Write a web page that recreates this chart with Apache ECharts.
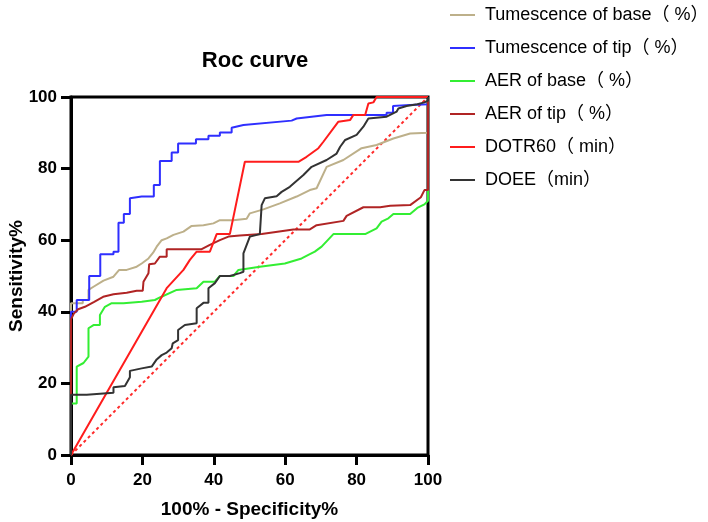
<!DOCTYPE html>
<html>
<head>
<meta charset="utf-8">
<style>
  html, body { margin: 0; padding: 0; background: #fff; }
  #chart { width: 708px; height: 522px; }
</style>
<script src="https://cdn.jsdelivr.net/npm/echarts@6/dist/echarts.min.js"></script>
</head>
<body>
<div id="chart"></div>
<script>
var names = ['Tumescence of base（ %）', 'Tumescence of tip（ %）', 'AER of base（ %）', 'AER of tip（ %）', 'DOTR60（ min）', 'DOEE（min）'];
var colors = ['#bdb08a', '#2f2fff', '#33ee33', '#b02424', '#ff1c1c', '#333333'];
var ticks = [0, 20, 40, 60, 80, 100];

var tumBase = [[0, 0], [0, 42.4], [3.3, 42.4], [3.3, 43.3], [4.9, 43.3], [4.9, 46.1], [6.3, 47], [9.1, 48.7], [11.9, 49.8], [13.5, 51.7], [15.6, 51.7], [18.4, 52.6], [19.8, 53.5], [21.7, 54.9], [23, 56.5], [24, 58.2], [25.4, 60], [26.8, 60.5], [28.7, 61.5], [31.5, 62.4], [33.8, 64], [37.1, 64.2], [39.9, 64.7], [41.7, 65.6], [45.5, 65.6], [49.2, 66], [50.1, 67.5], [53.9, 68.6], [58.5, 70.3], [63.2, 72.2], [66.9, 74], [68.8, 74.5], [71.6, 80.5], [76.3, 82.4], [81.4, 85.7], [85.6, 86.6], [90.3, 88.4], [95, 89.8], [100, 90], [100, 100]];
var tumTip = [[0, 0], [0, 40], [1.6, 40], [1.6, 43.3], [5.1, 43.3], [5.1, 50], [8.2, 50], [8.2, 56.1], [11.9, 56.1], [11.9, 56.8], [13.3, 56.8], [13.3, 64.9], [14.8, 64.9], [14.8, 67.3], [16.5, 67.3], [16.5, 71.7], [19.8, 72.2], [23.2, 72.2], [23.2, 75.4], [24.9, 75.4], [24.9, 82.1], [28.2, 82.1], [28.2, 84.5], [30, 84.5], [30, 87], [35, 87], [35, 88.2], [38.5, 88.2], [38.5, 89.2], [41.7, 89.2], [41.7, 90.1], [45, 90.1], [45, 91.4], [48.3, 92.2], [61.8, 93.4], [63.2, 94], [71.6, 95], [88.4, 95], [88.4, 95.6], [90.2, 95.6], [90.2, 97.5], [95, 97.8], [100, 98], [100, 100]];
var aerBase = [[0, 0], [0, 14.4], [1.6, 14.4], [1.6, 24.7], [3.5, 25.7], [4.9, 27.5], [4.9, 35.4], [6.3, 36.3], [8.1, 36.3], [8.1, 39.1], [9.5, 41.4], [11.4, 42.4], [14.7, 42.4], [14.7, 42.8], [19.8, 42.8], [19.8, 43.3], [23.5, 43.3], [24.9, 44], [29.6, 46.1], [35.2, 46.6], [37.1, 48.4], [40.3, 48.4], [41.7, 50], [45.5, 50], [46.9, 51.7], [52.9, 52.6], [59.9, 53.5], [64.6, 54.9], [66.5, 55.9], [68.3, 56.8], [70.2, 58.2], [73.5, 61.7], [82.4, 61.7], [85.6, 63.3], [87, 65.2], [88.9, 66.1], [90.3, 67.3], [95, 67.3], [97, 69], [99, 70], [100, 71], [100, 100]];
var aerTip = [[0, 0], [0, 37.9], [0.8, 39.5], [2, 40.7], [3.9, 41.4], [6.5, 42.8], [9, 44.2], [11.9, 44.9], [15.6, 45.3], [18.4, 45.9], [20.1, 45.9], [20.3, 48.4], [21.7, 50.8], [21.9, 53.3], [23.5, 53.5], [24.9, 55.4], [26.8, 55.4], [26.8, 57.5], [36.6, 57.5], [38.9, 58.7], [41.7, 60], [44.1, 61], [47.3, 61.3], [53.4, 61.7], [62.3, 63], [66.9, 63], [68.8, 64.2], [76.3, 65.4], [77.2, 66.8], [81.9, 69.2], [86.6, 69.2], [89.4, 69.6], [95, 69.8], [98, 72], [99, 74], [100, 74], [100, 100]];
var dotr60 = [[0, 0], [26.8, 46.6], [31.5, 51.7], [33.3, 54.5], [35.2, 56.8], [38.9, 56.8], [40.8, 61.7], [44.5, 61.7], [48.7, 81.9], [63.7, 81.9], [66, 83.3], [69.3, 85.7], [70.7, 87.5], [74.9, 93.1], [78.2, 93.6], [79.1, 95], [82.4, 95], [83.3, 98.2], [84.7, 98.5], [85.6, 100], [100, 100]];
var doee = [[0, 0], [0, 16.8], [4.4, 16.8], [11.9, 17.4], [11.9, 18.9], [15.1, 19.3], [16.5, 21.7], [16.5, 23.5], [19.8, 24.2], [22.6, 24.7], [24, 26.7], [25.4, 27.9], [26.8, 28.6], [28.2, 29.8], [28.5, 31.2], [30, 32.1], [30, 34.9], [31.9, 36.3], [35.2, 36.8], [35.2, 41], [37.1, 42.5], [38.5, 42.5], [38.5, 46.6], [40.3, 48], [41.7, 50], [44.5, 50], [47.3, 50.8], [48.3, 51.2], [48.3, 56.3], [50.1, 61], [52.9, 61.7], [53.4, 61.7], [53.4, 69.8], [54.3, 71.7], [57.6, 72.3], [59, 73.5], [61.3, 74.9], [65.1, 78.2], [67.4, 80.5], [71.6, 82.4], [74.4, 84.2], [75.4, 86.1], [76.8, 88], [80, 89.4], [81.9, 91.7], [83.3, 94], [88.4, 94.5], [91.2, 95.9], [91.7, 96.8], [94, 97.5], [97, 98], [99, 98.5], [100, 99], [100, 100]];
var reference = [[0, 0], [100, 100]];

var curves = [tumBase, tumTip, aerBase, aerTip, dotr60, doee];
var font = "'Liberation Sans', Arial, 'Noto Sans CJK SC', sans-serif";

var series = curves.map(function (d, i) {
  return {
    name: names[i],
    type: 'line',
    data: d,
    showSymbol: false,
    symbol: 'none',
    lineStyle: { color: colors[i], width: 2 },
    itemStyle: { color: colors[i] },
    z: 3
  };
});
series.unshift({
  name: 'ref',
  type: 'line',
  data: reference,
  symbol: 'none',
  lineStyle: { color: '#ff2a2a', width: 2, type: [3, 3] },
  z: 2
});

var chart = echarts.init(document.getElementById('chart'), null, { renderer: 'canvas' });
chart.setOption({
  animation: false,
  backgroundColor: '#fff',
  title: {
    text: 'Roc curve',
    left: 250,
    top: 45,
    textAlign: 'center',
    textStyle: { fontFamily: font, fontSize: 22, fontWeight: 'bold', color: '#000' }
  },
  legend: {
    data: names.map(function (n) { return { name: n, icon: 'rect' }; }),
    orient: 'vertical',
    left: 445,
    top: 0,
    itemWidth: 25,
    itemHeight: 2,
    itemGap: 13,
    textStyle: { fontFamily: font, fontSize: 18, color: '#000', lineHeight: 20, padding: [0, 0, 0, 5] }
  },
  grid: {
    left: 71, top: 97, width: 357, height: 358,
    outerBoundsMode: 'none',
    containLabel: false,
    show: true, borderColor: '#000', borderWidth: 3
  },
  xAxis: {
    type: 'value',
    min: 0, max: 100, interval: 20,
    name: '100% - Specificity%',
    nameLocation: 'middle',
    nameGap: 45,
    nameMoveOverlap: false,
    nameTextStyle: { fontFamily: font, fontSize: 19, fontWeight: 'bold', color: '#000' },
    axisLine: { show: true, lineStyle: { color: '#000', width: 3 } },
    axisTick: { show: true, length: 10, lineStyle: { color: '#000', width: 3 } },
    axisLabel: { fontFamily: font, fontSize: 17, fontWeight: 'bold', color: '#000', margin: 17,
      formatter: function (v) { return ticks.indexOf(v) >= 0 ? String(v) : ''; } },
    splitLine: { show: false }
  },
  yAxis: {
    type: 'value',
    min: 0, max: 100, interval: 20,
    name: 'Sensitivity%',
    nameLocation: 'middle',
    nameGap: 45,
    nameMoveOverlap: false,
    nameTextStyle: { fontFamily: font, fontSize: 19, fontWeight: 'bold', color: '#000' },
    axisLine: { show: true, lineStyle: { color: '#000', width: 3 } },
    axisTick: { show: true, length: 10, lineStyle: { color: '#000', width: 3 } },
    axisLabel: { fontFamily: font, fontSize: 17, fontWeight: 'bold', color: '#000', margin: 14 },
    splitLine: { show: false }
  },
  series: series
});
</script>
</body>
</html>
